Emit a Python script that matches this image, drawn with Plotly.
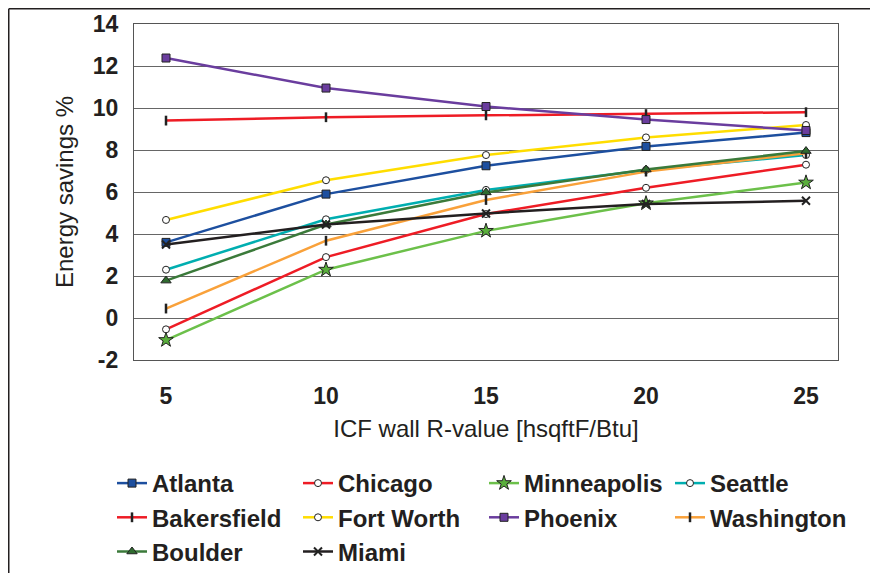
import plotly.graph_objects as go

r_values = [5, 10, 15, 20, 25]

atlanta = [3.6, 5.9, 7.25, 8.17, 8.83]
chicago = [-0.54, 2.9, 4.95, 6.2, 7.3]
minneapolis = [-1.05, 2.3, 4.15, 5.46, 6.45]
seattle = [2.3, 4.7, 6.1, 7.05, 7.76]
bakersfield = [9.4, 9.56, 9.65, 9.71, 9.8]
fort_worth = [4.67, 6.56, 7.76, 8.6, 9.19]
phoenix = [12.38, 10.95, 10.07, 9.45, 8.93]
washington = [0.45, 3.68, 5.62, 6.97, 7.85]
boulder = [1.78, 4.45, 5.98, 7.07, 7.95]
miami = [3.5, 4.45, 4.98, 5.43, 5.58]

y_ticks = [-2, 0, 2, 4, 6, 8, 10, 12, 14]
y_tick_labels = ["-2", "0", "2", "4", "6", "8", "10", "12", "14"]

series = [
    ("Atlanta", atlanta, "#1d4f9f", dict(symbol="square", size=8, color="#1d4f9f", line=dict(color="#222", width=1))),
    ("Chicago", chicago, "#ee1c25", dict(symbol="circle", size=7, color="white", line=dict(color="#222", width=1))),
    ("Minneapolis", minneapolis, "#6cc04a", dict(symbol="star", size=11, color="#5aaf3c", line=dict(color="#222", width=1))),
    ("Seattle", seattle, "#00aeb0", dict(symbol="circle", size=7, color="white", line=dict(color="#222", width=1))),
    ("Bakersfield", bakersfield, "#ee1c25", dict(symbol="line-ns", size=7, color="#222", line=dict(color="#222", width=2.5))),
    ("Fort Worth", fort_worth, "#ffdd00", dict(symbol="circle", size=7, color="white", line=dict(color="#222", width=1))),
    ("Phoenix", phoenix, "#6a3d9e", dict(symbol="square", size=8, color="#6a3d9e", line=dict(color="#222", width=1))),
    ("Washington", washington, "#f9a13a", dict(symbol="line-ns", size=7, color="#222", line=dict(color="#222", width=2.5))),
    ("Boulder", boulder, "#3b7a3a", dict(symbol="triangle-up", size=9, color="#2f6b2f", line=dict(color="#222", width=1))),
    ("Miami", miami, "#231f20", dict(symbol="x-thin", size=8, color="#222", line=dict(color="#222", width=2))),
]

fig = go.Figure()
for name, vals, col, mk in series:
    fig.add_trace(go.Scatter(
        x=r_values, y=vals, name=name, mode="lines+markers",
        line=dict(color=col, width=2.5), marker=mk,
    ))

# the page body adds an 8px margin, so the figure is 8px smaller than the window
W, H = 870, 565
L, R, T, B = 126, 40, 16, 213
pw, ph = W - L - R, H - T - B

def px_to_paper_x(px):
    return (px - L) / pw

def px_to_paper_y(py):
    return (H - B - py) / ph

fig.update_layout(
    width=W, height=H,
    margin=dict(l=L, r=R, t=T, b=B, autoexpand=False),
    paper_bgcolor="white", plot_bgcolor="white",
    font=dict(family="Liberation Sans, Arial, sans-serif", color="#231f20"),
    showlegend=True,
    legend=dict(
        orientation="h", x=px_to_paper_x(104), xanchor="left",
        y=px_to_paper_y(453), yanchor="top",
        entrywidth=141, entrywidthmode="pixels",
        font=dict(size=24, family="Liberation Sans, Arial, sans-serif", weight="bold", color="#231f20"),
        bgcolor="rgba(0,0,0,0)", itemwidth=30,
    ),
    xaxis=dict(
        range=[4, 26], tickvals=r_values, ticktext=[str(v) for v in r_values],
        showgrid=False, zeroline=False,
        showline=True, linecolor="#555555", linewidth=1.3, mirror=True,
        ticks="outside", ticklen=15, tickcolor="rgba(0,0,0,0)",
        tickfont=dict(size=23, weight="bold"),
        title=dict(text="ICF wall R-value [hsqftF/Btu]", font=dict(size=24), standoff=12),
    ),
    yaxis=dict(
        range=[-2, 14], tickvals=y_ticks, ticktext=y_tick_labels,
        showgrid=True, gridcolor="#666666", gridwidth=1.1, zeroline=False,
        showline=True, linecolor="#555555", linewidth=1.3, mirror=True,
        ticks="outside", ticklen=10, tickcolor="rgba(0,0,0,0)",
        tickfont=dict(size=23, weight="bold"),
        title=dict(text="Energy savings %", font=dict(size=24), standoff=12),
    ),
    shapes=[
        dict(type="line", xref="paper", yref="paper",
             x0=px_to_paper_x(0.75), x1=px_to_paper_x(880), y0=px_to_paper_y(0.75), y1=px_to_paper_y(0.75),
             line=dict(color="#231f20", width=1.5)),
        dict(type="line", xref="paper", yref="paper",
             x0=px_to_paper_x(0.75), x1=px_to_paper_x(0.75), y0=px_to_paper_y(0.75), y1=px_to_paper_y(580),
             line=dict(color="#231f20", width=1.5)),
    ],
)

fig.write_html("out.html")
